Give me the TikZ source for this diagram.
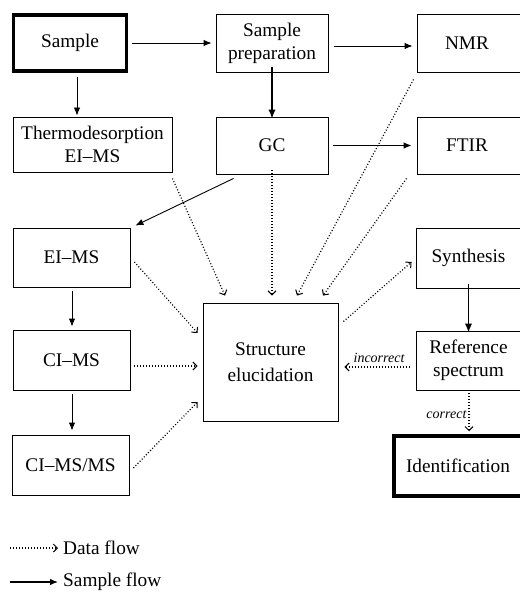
\documentclass[tikz,border=0pt]{standalone}
\usepackage{fontspec}
\setmainfont{Liberation Serif}
\usetikzlibrary{arrows.meta}
\begin{document}
\begin{tikzpicture}[x=1pt,y=-1pt,
  box/.style={draw, line width=0.9pt, rectangle, align=center, inner sep=0pt,
    font=\fontsize{19.3}{23}\selectfont},
  thickbox/.style={box, line width=3.5pt},
  sflow/.style={line width=0.9pt, -{Latex[length=8pt,width=6.5pt]}},
  sflowthick/.style={line width=1.6pt, -{Latex[length=9pt,width=7.5pt]}},
  data/.style={line width=1.2pt, dash pattern=on 1pt off 2pt,
    -{Straight Barb[length=4pt,width=8pt,line width=1pt]}},
  lbl/.style={inner sep=0pt, font=\fontsize{14}{16}\selectfont\itshape},
  legend/.style={inner sep=0pt, anchor=west, font=\fontsize{19.3}{23}\selectfont}]
\useasboundingbox (0,0) rectangle (519,596);

\node[thickbox, minimum width=113pt, minimum height=56pt] (sample) at (70,43) {Sample};
\node[box, minimum width=112pt, minimum height=58pt] (prep) at (272,43) {Sample\\preparation};
\node[box, minimum width=104pt, minimum height=58pt] (nmr) at (469,43) {\hspace*{-4pt}NMR};
\node[box, minimum width=159pt, minimum height=55pt] (thermo) at (92.5,144.5) {Thermodesorption\\EI--MS};
\node[box, minimum width=112pt, minimum height=57pt] (gc) at (272,145.5) {GC};
\node[box, minimum width=104pt, minimum height=57pt] (ftir) at (469,145.5) {\hspace*{-4pt}FTIR};
\node[box, minimum width=117pt, minimum height=59pt] (eims) at (71.5,257.5) {EI--MS};
\node[box, minimum width=117pt, minimum height=60pt] (cims) at (71.5,360) {CI--MS};
\node[box, minimum width=117pt, minimum height=60pt] (cimsms) at (70.5,465) {CI--MS/MS};
\node[box, minimum width=135pt, minimum height=118pt, font=\fontsize{19.3}{26}\selectfont] (struct) at (270.5,362) {Structure\\elucidation};
\node[box, minimum width=105pt, minimum height=60pt] (synth) at (468.5,258) {Synthesis};
\node[box, minimum width=105pt, minimum height=59pt] (ref) at (468.5,360.5) {Reference\\spectrum};
\node[thickbox, minimum width=128pt, minimum height=60pt] (ident) at (458,466) {Identification};

% sample flow
\draw[sflow] ([xshift=4pt]sample.east) -- ([xshift=-4pt]prep.west);
\draw[sflow] ([shift={(6,3)}]prep.east) -- ([shift={(-4,3)}]nmr.west);
\draw[sflow] ([shift={(7,4)}]sample.south) -- ([shift={(-15.5,-1)}]thermo.north);
\draw[sflowthick] ([yshift=5pt]prep.south) -- ([yshift=-2pt]gc.north);
\draw[sflow] ([xshift=5pt]gc.east) -- ([xshift=-5pt]ftir.west);
\draw[sflow] ([shift={(18,4)}]gc.south west) -- ([shift={(5,-2)}]eims.north east);
\draw[sflow] ([shift={(0.5,4)}]eims.south) -- ([shift={(0.5,-3)}]cims.north);
\draw[sflow] ([shift={(0.5,4)}]cims.south) -- ([shift={(1.5,-4)}]cimsms.north);
\draw[sflowthick] ([yshift=4pt]synth.south) -- ([yshift=-2pt]ref.north);

% data flow
\draw[data] ([shift={(0,6)}]thermo.south east) -- ([shift={(-45.5,-7)}]struct.north);
\draw[data] ([yshift=4pt]gc.south) -- ([shift={(1.5,-7)}]struct.north);
\draw[data] ([shift={(-3,7)}]nmr.south west) -- ([shift={(26.5,-7)}]struct.north);
\draw[data] ([shift={(-10,4)}]ftir.south west) -- ([shift={(52.5,-7)}]struct.north);
\draw[data] ([shift={(4,4.5)}]eims.east) -- ([shift={(-5,-29)}]struct.west);
\draw[data] ([shift={(4,6)}]cims.east) -- ([shift={(-5,4)}]struct.west);
\draw[data] ([shift={(4,3)}]cimsms.east) -- ([shift={(-5,40)}]struct.west);
\draw[data] ([shift={(5,19)}]struct.north east) -- ([shift={(-4,4)}]synth.west);
\draw[data] ([shift={(-6,6.5)}]ref.west) -- node[lbl, pos=0.5, above=4pt, xshift=2pt] {incorrect} ([shift={(6,5)}]struct.east);
\draw[data] ([shift={(0.5,3)}]ref.south) -- node[lbl, left=2pt, pos=0.55] {correct} ([shift={(11,-3)}]ident.north);

% legend
\coordinate (d1) at (10,548); \coordinate (d2) at (58,548);
\coordinate (s1) at (10,582); \coordinate (s2) at (58,582);
\draw[data] (d1) -- (d2);
\draw[sflow, line width=1.2pt] (s1) -- (s2);
\node[legend] (dl) at (63,548) {Data flow};
\node[legend] (sl) at (63,582) {Sample flow};
\end{tikzpicture}
\end{document}
